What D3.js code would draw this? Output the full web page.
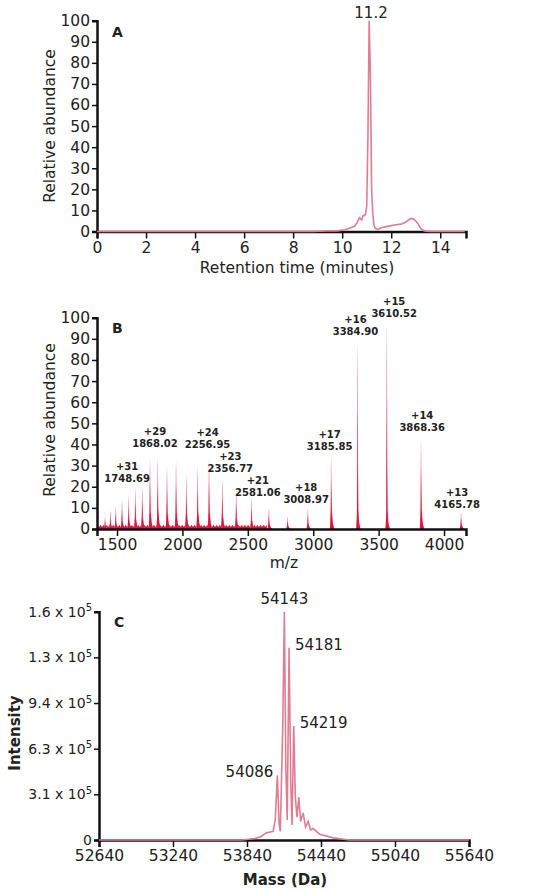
<!DOCTYPE html>
<html><head><meta charset="utf-8">
<script src="https://cdn.jsdelivr.net/npm/d3@7"></script>
<style>
body{margin:0;background:#fff}
text{font-family:"DejaVu Sans",Verdana,sans-serif;fill:#222}
</style></head><body>
<script>
// panel A: chromatogram [minutes, relative abundance]
var chromTime = [0,8.8,9.4,9.8,10.1,10.3,10.5,10.6,10.7,10.8,10.85,10.95,11.0,11.05,11.1,11.15,11.2,11.25,11.3,11.35,11.45,11.6,11.8,12.0,12.2,12.4,12.6,12.8,12.9,13.0,13.1,13.2,13.35,13.6,15]
var chromAbund = [0,0,0.3,0.3,0.8,1.5,2.5,4,6.5,5.5,7.5,8,12,45,100,75,20,8,3,1.5,1,1.8,2.3,2.8,3.2,3.5,4.5,6.2,6,5,3.5,1.5,0.3,0,0]

// panel B: ESI spectrum peaks [m/z, relative abundance]
var peakMz = [1408,1449,1490,1538,1589,1640,1693,1752,1811,1882,1951,2030,2116,2203,2305,2411,2528,2661,2804,2959,3137,3338,3562,3824,4130]
var peakAbund = [6,9,11,14,16,19.5,20.5,34,34,30,33,26,30,34,24,19,15,10,6,10,35,89,98,43,8]
var labelCharge = ["+31","+29","+24","+23","+21","+18","+17","+16","+15","+14","+13"]
var labelMz = ["1748.69","1868.02","2256.95","2356.77","2581.06","3008.97","3185.85","3384.90","3610.52","3868.36","4165.78"]
var labelX = [1577,1790,2192,2366,2577,2946,3125,3323,3619,3833,4100]
var labelY = [22.4,38.8,38.2,27.1,15.8,12.3,37.5,92,100.3,46.4,9.8]

// panel C: deconvoluted mass spectrum [Da, intensity]
var mass = [52640,53800,53900,53944,53998,54052,54070,54086,54100,54110,54130,54143,54155,54166,54181,54195,54205,54219,54232,54245,54260,54275,54295,54315,54336,54355,54376,54430,54538,54673,55640]
var intensity = [0,0,0.01e5,0.02e5,0.05e5,0.06e5,0.15e5,0.453e5,0.12e5,0.06e5,0.8e5,1.6e5,0.5e5,0.14e5,1.348e5,0.4e5,0.105e5,0.799e5,0.3e5,0.16e5,0.30e5,0.13e5,0.19e5,0.09e5,0.13e5,0.07e5,0.08e5,0.04e5,0.015e5,0,0]
var massTicks = [52640,53240,53840,54440,55040,55640]
var intTicks = [0,0.32e5,0.64e5,0.96e5,1.28e5,1.6e5]
var intLabels = ["0","3.1 x 10","6.3 x 10","9.4 x 10","1.3 x 10","1.6 x 10"]
var peakLabelsC = [[54086,0.453e5,"54086",-1],[54143,1.6e5,"54143",0],[54181,1.348e5,"54181",1],[54219,0.799e5,"54219",1]]

var svg = d3.select("body").append("svg").attr("width",551).attr("height",893)
var lineCol = "#e07d93"

function axes(g, x, y, xTicks, xMinor, yTicks, yMinor, xFmt, yFmt) {
  var h = y.range()[0]
  var xa = g.append("g").attr("transform","translate(0,"+h+")")
  xa.call(d3.axisBottom(x).tickValues(xMinor).tickSize(4).tickFormat(""))
  xa.call(d3.axisBottom(x).tickValues(xTicks).tickSize(7).tickFormat(xFmt).tickPadding(3))
  var ya = g.append("g").attr("transform","translate("+x.range()[0]+",0)")
  ya.call(d3.axisLeft(y).tickValues(yMinor).tickSize(3).tickFormat(""))
  ya.call(d3.axisLeft(y).tickValues(yTicks).tickSize(5).tickFormat(yFmt).tickPadding(2))
  g.selectAll(".domain").attr("stroke","#111").attr("stroke-width",2.5)
  g.selectAll(".tick line").attr("stroke","#111").attr("stroke-width",1.5)
  g.selectAll(".tick text").style("font-size","15.5px").attr("fill","#222")
  return [xa, ya]
}

// ---- panel A
var gA = svg.append("g")
var xA = d3.scaleLinear().domain([0,15.05]).range([97,466])
var yA = d3.scaleLinear().domain([0,100]).range([231.5,20.7])
axes(gA, xA, yA, d3.range(0,15,2), d3.range(0,15.05,0.5), d3.range(0,101,10), d3.range(0,101,2.5), d3.format("d"), d3.format("d"))
gA.append("path").datum(d3.zip(chromTime,chromAbund))
  .attr("d", d3.line().x(d=>xA(d[0])).y(d=>yA(d[1])))
  .attr("fill","none").attr("stroke",lineCol).attr("stroke-width",1.6)
gA.append("text").attr("x",371).attr("y",18).attr("text-anchor","middle").style("font-size","15px").text("11.2")
gA.append("text").attr("x",112).attr("y",37).style("font-size","14px").style("font-weight","bold").text("A")
gA.append("text").attr("x",297).attr("y",273).attr("text-anchor","middle").style("font-size","15.5px").text("Retention time (minutes)")
gA.append("text").attr("transform","translate(55,126) rotate(-90)").attr("text-anchor","middle").style("font-size","15.5px").text("Relative abundance")

// ---- panel B
var gB = svg.append("g")
var xB = d3.scaleLinear().domain([1347,4168]).range([97,466])
var yB = d3.scaleLinear().domain([0,100]).range([529,317.7])
var baseX = d3.range(1350,2650,8)
gB.append("path").datum(baseX)
  .attr("d", d3.area().x(d=>xB(d)).y0(yB(0)).y1((d,i)=>yB(i%3==0?2:1.2)))
  .attr("fill","#d9173f")
peakMz.forEach(function(m,i){
  var hgt = peakAbund[i]
  var pts = [[m-10,0],[m-5,Math.min(hgt*0.25,5)],[m-2,hgt*0.8],[m,hgt],[m+2,hgt*0.85],[m+6,hgt*0.3],[m+12,Math.min(hgt*0.12,4)],[m+22,0]]
  gB.append("path").datum(pts)
    .attr("d", d3.area().x(d=>xB(d[0])).y0(yB(0)).y1(d=>yB(d[1])))
    .attr("fill","#e8899f")
  var pts2 = [[m-9,0],[m-3,Math.min(hgt*0.3,8)],[m,hgt*0.65],[m+4,Math.min(hgt*0.25,10)],[m+12,Math.min(hgt*0.1,3)],[m+24,0]]
  gB.append("path").datum(pts2)
    .attr("d", d3.area().x(d=>xB(d[0])).y0(yB(0)).y1(d=>yB(d[1])))
    .attr("fill","#d9173f")
})
axes(gB, xB, yB, d3.range(1500,4001,500), d3.range(1400,4168,100), d3.range(0,101,10), d3.range(0,101,2.5), d3.format("d"), d3.format("d"))
labelCharge.forEach(function(c,i){
  var t = gB.append("text").attr("text-anchor","middle").style("font-size","10px").style("font-weight","bold")
  t.append("tspan").attr("x",xB(labelX[i])).attr("y",yB(labelY[i])-12).text(c)
  t.append("tspan").attr("x",xB(labelX[i])).attr("y",yB(labelY[i])).text(labelMz[i])
})
gB.append("text").attr("x",112).attr("y",333).style("font-size","14px").style("font-weight","bold").text("B")
gB.append("text").attr("x",284).attr("y",568).attr("text-anchor","middle").style("font-size","15.5px").text("m/z")
gB.append("text").attr("transform","translate(55,420) rotate(-90)").attr("text-anchor","middle").style("font-size","15.5px").text("Relative abundance")

// ---- panel C
var gC = svg.append("g")
var xC = d3.scaleLinear().domain([52640,55640]).range([99,469])
var yC = d3.scaleLinear().domain([0,1.6e5]).range([840,611.7])
var ax = axes(gC, xC, yC, massTicks, d3.range(52640,55641,300), intTicks, d3.range(0,1.61e5,0.16e5), d3.format("d"), (d,i)=>intLabels[i])
ax[1].selectAll(".tick text").style("font-size","14px").filter((d,i,n)=>d>0 && n[i].textContent!="").each(function(){
  d3.select(this).append("tspan").attr("dy","-0.55em").style("font-size","10px").text("5")
})
gC.append("path").datum(d3.zip(mass,intensity))
  .attr("d", d3.line().x(d=>xC(d[0])).y(d=>yC(d[1])))
  .attr("fill","none").attr("stroke",lineCol).attr("stroke-width",1.6)
peakLabelsC.forEach(function(p){
  gC.append("text").attr("x",xC(p[0])+(p[3]<0?-4:p[3]>0?6:0)).attr("y",yC(p[1])-(p[3]===0?8:-2))
    .attr("text-anchor",p[3]<0?"end":p[3]>0?"start":"middle").style("font-size","15px").text(p[2])
})
gC.append("text").attr("x",114).attr("y",627).style("font-size","14px").style("font-weight","bold").text("C")
gC.append("text").attr("x",285).attr("y",885).attr("text-anchor","middle").style("font-size","15px").style("font-weight","bold").text("Mass (Da)")
gC.append("text").attr("transform","translate(20,733) rotate(-90)").attr("text-anchor","middle").style("font-size","15px").style("font-weight","bold").text("Intensity")
</script>
</body></html>
